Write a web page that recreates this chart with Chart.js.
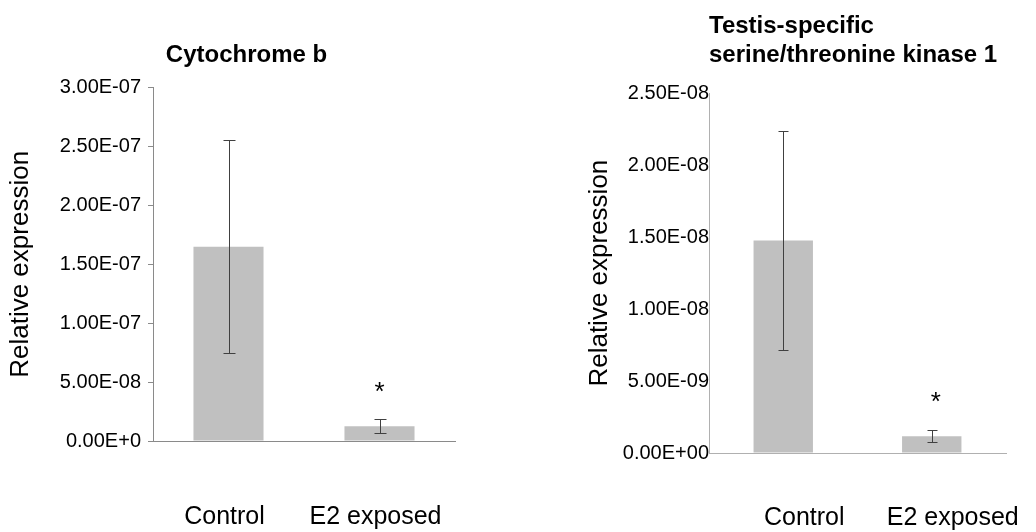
<!DOCTYPE html>
<html>
<head>
<meta charset="utf-8">
<title>Relative expression</title>
<script src="https://cdn.jsdelivr.net/npm/chart.js@4.4.1/dist/chart.umd.min.js"></script>
<style>
    html, body { margin: 0; padding: 0; background: #ffffff; }
    body { width: 1036px; height: 532px; position: relative; overflow: hidden; }
    canvas { position: absolute; top: 0; }
    #cytbChart { left: 0; }
    #tssk1Chart { left: 560px; }
</style>
</head>
<body>
<canvas id="cytbChart" width="470" height="532"></canvas>
<canvas id="tssk1Chart" width="476" height="532"></canvas>
<script>
// categories shared by both panels
const categories = ['Control', 'E2 exposed'];

// Cytochrome b
const cytbMean = [1.65e-7, 1.26e-8];
const cytbErr = [9.05e-8, 6.1e-9];
const cytbStar = [null, 4.7e-8];
const cytbTickValues = [0, 5e-8, 1e-7, 1.5e-7, 2e-7, 2.5e-7, 3e-7];
const cytbTickLabels = ['0.00E+0', '5.00E-08', '1.00E-07', '1.50E-07', '2.00E-07', '2.50E-07', '3.00E-07'];

// Testis-specific serine/threonine kinase 1
const tssk1Mean = [1.477e-8, 1.17e-9];
const tssk1Err = [7.6e-9, 4.3e-10];
const tssk1Star = [null, 4.0e-9];
const tssk1TickValues = [0, 5e-9, 1e-8, 1.5e-8, 2e-8, 2.5e-8];
const tssk1TickLabels = ['0.00E+00', '5.00E-09', '1.00E-08', '1.50E-08', '2.00E-08', '2.50E-08'];

(function() {
    'use strict';

    const FONT = '"Liberation Sans", Arial, sans-serif';
    const BAR_COLOR = '#c0c0c0';
    const ERR_COLOR = '#404040';

    Chart.defaults.font.family = FONT;
    Chart.defaults.color = '#000000';

    /**
     * Draws error bars and significance stars from the dataset arrays
     */
    const errorBarPlugin = {
        id: 'errorBars',
        afterDatasetsDraw(chart, args, opts) {
            const ctx = chart.ctx;
            const x = chart.scales.x;
            const y = chart.scales.y;
            ctx.save();
            ctx.strokeStyle = ERR_COLOR;
            ctx.lineWidth = 1;
            opts.mean.forEach(function(m, i) {
                const px = Math.round(x.getPixelForValue(i)) + 0.5;
                const top = Math.round(y.getPixelForValue(m + opts.err[i])) + 0.5;
                const bot = Math.round(y.getPixelForValue(m - opts.err[i])) + 0.5;
                ctx.beginPath();
                ctx.moveTo(px, top);
                ctx.lineTo(px, bot);
                ctx.moveTo(px - opts.cap, top);
                ctx.lineTo(px + opts.cap, top);
                ctx.moveTo(px - opts.cap, bot);
                ctx.lineTo(px + opts.cap, bot);
                ctx.stroke();
            });
            // stars: value is the glyph centre
            ctx.fillStyle = '#000000';
            ctx.font = '26px ' + FONT;
            ctx.textAlign = 'center';
            ctx.textBaseline = 'alphabetic';
            opts.star.forEach(function(s, i) {
                if (s === null) return;
                const px = x.getPixelForValue(i) + opts.starShift;
                const py = y.getPixelForValue(s);
                ctx.fillText('*', px, py + 0.57 * 26);
            });
            ctx.restore();
        }
    };

    /**
     * Build one bar panel
     */
    function makePanel(canvasId, cfg) {
        const ctx = document.getElementById(canvasId).getContext('2d');
        return new Chart(ctx, {
            type: 'bar',
            data: {
                labels: categories,
                datasets: [{
                    data: cfg.mean,
                    backgroundColor: BAR_COLOR,
                    borderWidth: 0,
                    barPercentage: cfg.barPct,
                    categoryPercentage: 1
                }]
            },
            plugins: [errorBarPlugin],
            options: {
                responsive: false,
                animation: false,
                devicePixelRatio: 1,
                layout: { padding: cfg.padding },
                plugins: {
                    legend: { display: false },
                    tooltip: { enabled: false },
                    title: {
                        display: true,
                        text: cfg.title,
                        align: cfg.titleAlign,
                        fullSize: cfg.titleFull,
                        color: '#000000',
                        font: { size: 24, weight: 'bold' },
                        padding: cfg.titlePadding
                    },
                    errorBars: {
                        mean: cfg.mean,
                        err: cfg.err,
                        star: cfg.star,
                        cap: cfg.cap,
                        starShift: cfg.starShift
                    }
                },
                scales: {
                    x: {
                        grid: { display: true, drawOnChartArea: false, drawTicks: false },
                        border: { color: cfg.axisColor, width: 1 },
                        ticks: {
                            color: '#000000',
                            font: { size: 25 },
                            padding: cfg.xPad,
                            labelOffset: cfg.labelShift,
                            maxRotation: 0
                        },
                        afterFit: function(scale) {
                            // the big label gap should not eat into the plot width
                            scale.height = cfg.xHeight;
                            scale.paddingLeft = 0;
                            scale.paddingRight = 0;
                        }
                    },
                    y: {
                        min: 0,
                        max: cfg.tickValues[cfg.tickValues.length - 1],
                        grid: {
                            drawOnChartArea: false,
                            drawTicks: cfg.drawTicks,
                            tickLength: 5,
                            color: cfg.axisColor
                        },
                        border: { color: cfg.axisColor, width: 1 },
                        afterBuildTicks: function(scale) {
                            scale.ticks = cfg.tickValues.map(v => ({ value: v }));
                        },
                        ticks: {
                            color: '#000000',
                            font: { size: 20 },
                            padding: cfg.yPad,
                            callback: function(value, index) {
                                return cfg.tickLabels[index];
                            }
                        },
                        title: {
                            display: true,
                            text: 'Relative expression',
                            color: '#000000',
                            font: { size: 26 },
                            padding: { top: cfg.yTitlePad, bottom: 0 }
                        },
                        afterFit: function(scale) {
                            scale.width = cfg.yWidth;
                            scale.paddingTop = 0;
                            scale.paddingBottom = 0;
                        }
                    }
                }
            }
        });
    }

    document.addEventListener('DOMContentLoaded', function() {
        makePanel('cytbChart', {
            title: 'Cytochrome b',
            titleAlign: 'center',
            titleFull: true,
            titlePadding: { top: 0, bottom: 17.6 },
            mean: cytbMean,
            err: cytbErr,
            star: cytbStar,
            tickValues: cytbTickValues,
            tickLabels: cytbTickLabels,
            padding: { left: 38, right: 15, top: 41.3, bottom: 0 },
            yWidth: 115,
            yPad: 7,
            yTitlePad: -32.3,
            drawTicks: true,
            xHeight: 91,
            xPad: 61,
            labelShift: -4,
            barPct: 0.464,
            cap: 6,
            starShift: 0,
            axisColor: '#8a8a8a'
        });

        makePanel('tssk1Chart', {
            title: ['Testis-specific', 'serine/threonine kinase 1'],
            titleAlign: 'start',
            titleFull: false,
            titlePadding: { top: 0, bottom: 23.4 },
            mean: tssk1Mean,
            err: tssk1Err,
            star: tssk1Star,
            tickValues: tssk1TickValues,
            tickLabels: tssk1TickLabels,
            padding: { left: 59, right: 30, top: 12.3, bottom: 0 },
            yWidth: 90,
            yPad: 0,
            yTitlePad: -35,
            drawTicks: false,
            xHeight: 79,
            xPad: 50,
            labelShift: 21,
            barPct: 0.4,
            cap: 5,
            starShift: 4,
            axisColor: '#b0b0b0'
        });
    });
})();
</script>
</body>
</html>
